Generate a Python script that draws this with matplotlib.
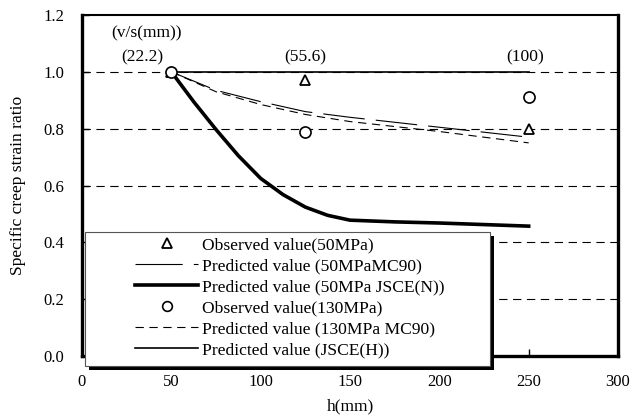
import matplotlib
matplotlib.use("Agg")
import matplotlib.pyplot as plt
from matplotlib.patches import Rectangle
from matplotlib.lines import Line2D

plt.rcParams['font.family'] = ['Liberation Serif', 'DejaVu Serif']
plt.rcParams['lines.scale_dashes'] = False

# ---- data ----
h_obs = [50, 125, 250]
obs_50 = [1.0, 0.97, 0.80]
obs_130 = [1.0, 0.79, 0.91]

h_pred = [50, 75, 100, 125, 150, 200, 250]
mc90_50 = [1.0, 0.935, 0.895, 0.86, 0.84, 0.805, 0.77]
mc90_130 = [1.0, 0.93, 0.885, 0.85, 0.825, 0.79, 0.75]

h_jsce_n = [50, 62.5, 75, 87.5, 100, 112.5, 125, 137.5, 150, 175, 200, 250]
jsce_n = [1.0, 0.895, 0.797, 0.705, 0.625, 0.568, 0.524, 0.495, 0.478, 0.472, 0.468, 0.457]

h_jsce_h = [50, 250]
jsce_h = [1.0, 1.0]

vs_labels = ['(22.2)', '(55.6)', '(100)']
vs_x = [34, 125, 248]

labels = ['Observed value(50MPa)', 'Predicted value (50MPaMC90)',
          'Predicted value (50MPa JSCE(N))', 'Observed value(130MPa)',
          'Predicted value (130MPa MC90)', 'Predicted value (JSCE(H))']

fs = 12.6
tfs = 12

fig = plt.figure(figsize=(6.31, 4.18), dpi=100)
ax = fig.add_axes([82/631, 1-356/418, 536/631, 341/418])

for yv in [0.2, 0.4, 0.6, 0.8, 1.0]:
    ax.axhline(yv, color='black', lw=0.8, dashes=(6, 4), zorder=1)

ax.plot(h_jsce_h, jsce_h, color='black', lw=1.2, zorder=3)
ax.plot(h_pred, mc90_50, color='black', lw=0.8, dashes=(30, 8), zorder=3)
ax.plot(h_pred, mc90_130, color='black', lw=0.8, dashes=(6, 4), zorder=3)
ax.plot(h_jsce_n, jsce_n, color='black', lw=2.6, zorder=3, solid_joinstyle='round')
ax.plot(h_obs, obs_50, ls='none', marker='^', ms=7, mfc='white', mec='black', mew=1.3, zorder=4)
ax.plot(h_obs, obs_130, ls='none', marker='o', ms=8, mfc='white', mec='black', mew=1.2, zorder=5)

ax.text(36, 1.135, '(v/s(mm))', fontsize=fs, ha='center', va='center')
for lab, xv in zip(vs_labels, vs_x):
    ax.text(xv, 1.05, lab, fontsize=fs, ha='center', va='center')

ax.set_xlim(0, 300)
ax.set_ylim(0, 1.2)
ax.set_xticks([0, 50, 100, 150, 200, 250, 300])
ax.set_yticks([0.0, 0.2, 0.4, 0.6, 0.8, 1.0, 1.2])
ax.set_yticklabels(['0.0', '0.2', '0.4', '0.6', '0.8', '1.0', '1.2'])
ax.tick_params(direction='in', length=5, width=1, labelsize=tfs, pad=13)
ax.set_xlabel('h(mm)', fontsize=fs, labelpad=6)
ax.set_ylabel('Specific creep strain ratio', fontsize=fs, labelpad=12)

ax.spines['top'].set_linewidth(1.5)
for s in ['left', 'right', 'bottom']:
    ax.spines[s].set_linewidth(2.4)

# legend box with shadow
x0, x1 = (85-82)/536, (490-82)/536
yb, yt = (356-366)/341, (356-232)/341
sh = Rectangle((x0 + 4/536, yb - 4/341), x1 - x0, yt - yb, transform=ax.transAxes,
               facecolor='black', edgecolor='none', clip_on=False, zorder=8)
box = Rectangle((x0, yb), x1 - x0, yt - yb, transform=ax.transAxes,
                facecolor='white', edgecolor='#555555', lw=0.8, clip_on=False, zorder=9)
ax.add_patch(sh)
ax.add_patch(box)

handles = [
    Line2D([], [], ls='none', marker='^', ms=7, mfc='white', mec='black', mew=1.3),
    Line2D([], [], color='black', lw=0.8, dashes=(34, 8)),
    Line2D([], [], color='black', lw=2.6),
    Line2D([], [], ls='none', marker='o', ms=7, mfc='white', mec='black', mew=1.2),
    Line2D([], [], color='black', lw=0.8, dashes=(6, 4)),
    Line2D([], [], color='black', lw=1.2),
]
leg = ax.legend(handles, labels, loc='upper left',
                bbox_to_anchor=((135-82)/536, (356-237)/341),
                frameon=False, fontsize=fs, handlelength=3.6, handletextpad=0.25,
                labelspacing=0.27, borderaxespad=0, borderpad=0)
leg.set_zorder(10)

fig.savefig('out.png', dpi=100)
